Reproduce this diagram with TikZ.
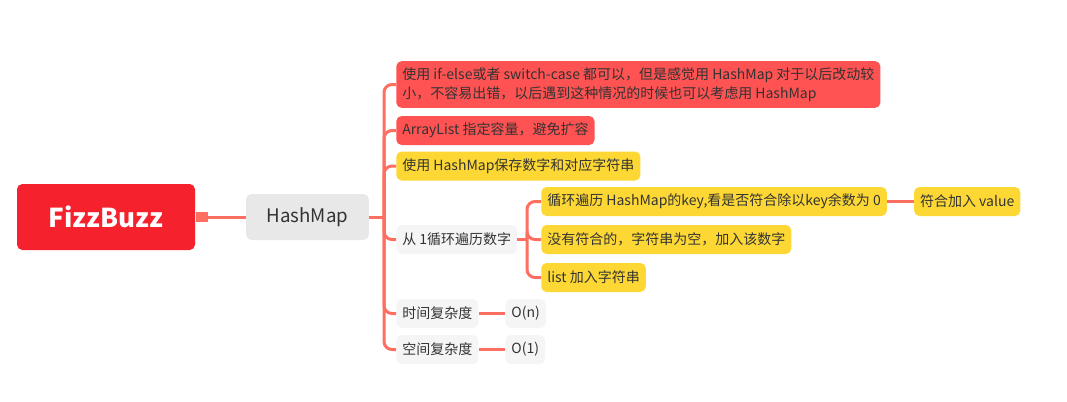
\documentclass[tikz,border=0pt]{standalone}
\usepackage{fontspec}
\setmainfont{Noto Sans CJK SC}
\definecolor{RootRed}{HTML}{F5222D}
\definecolor{TopicRed}{HTML}{FF5252}
\definecolor{TopicGold}{HTML}{FDD835}
\definecolor{TopicPale}{HTML}{F5F5F5}
\definecolor{HubGray}{HTML}{E8E8E8}
\definecolor{LinkSalmon}{HTML}{FF6F61}
\definecolor{InkGray}{HTML}{333333}
\usetikzlibrary{positioning}

\begin{document}
\begin{tikzpicture}[
  x=0.75pt, y=-0.75pt,
  root/.style={rectangle, rounded corners=4pt, fill=RootRed, text=white, minimum width=133.5pt, minimum height=49.5pt, font=\fontsize{19.5}{22}\selectfont\bfseries},
  hub/.style={rectangle, rounded corners=4pt, fill=HubGray, text=InkGray, minimum width=92pt, minimum height=34.5pt, font=\fontsize{14}{16}\selectfont},
  leaf/.style={rectangle, rounded corners=4pt, text=InkGray, anchor=west, minimum height=21.75pt, inner xsep=4.5pt, inner ysep=0pt, font=\fontsize{10.5}{14.5}\selectfont},
  hot/.style={fill=TopicRed},
  gold/.style={fill=TopicGold},
  pale/.style={fill=TopicPale},
  knobbox/.style={rectangle, fill=LinkSalmon, minimum width=9pt, minimum height=7.5pt, inner sep=0pt},
  link/.style={line width=2.25pt, LinkSalmon, rounded corners=6pt}
]
  \useasboundingbox (0,0) rectangle (1067,401);

  % Root and hub
  \node[root] (fizz) at (106,217) {FizzBuzz};
  \node[knobbox, right=0pt of fizz] (knob) {};
  \node[hub] (hashmap) at (307.5,217) {HashMap};
  \coordinate (fork) at (384,217);

  % First level topics
  \node[leaf, hot, align=left, minimum height=35pt] (ifelse) at (396,84.5) {使用 if-else或者 switch-case 都可以，但是感觉用 HashMap 对于以后改动较\\小，不容易出错，以后遇到这种情况的时候也可以考虑用 HashMap};
  \node[leaf, hot] (arraylist) at (396,130.5) {ArrayList 指定容量，避免扩容};
  \node[leaf, gold] (store) at (396,166) {使用 HashMap保存数字和对应字符串};
  \node[leaf, pale] (loop) at (396,239.5) {从 1循环遍历数字};
  \node[leaf, pale] (time) at (396,313.5) {时间复杂度};
  \node[leaf, pale] (space) at (396,349.5) {空间复杂度};

  % Loop steps
  \coordinate (subfork) at (527,239.5);
  \node[leaf, gold] (keys) at (541,201.5) {循环遍历 HashMap的key,看是否符合除以key余数为 0};
  \node[leaf, gold] (empty) at (541,239.5) {没有符合的，字符串为空，加入该数字};
  \node[leaf, gold] (append) at (541,277.5) {list 加入字符串};
  \node[leaf, gold, right=20pt of keys] (value) {符合加入 value};

  % Complexity
  \node[leaf, pale, right=20pt of time] (timeO) {O(n)};
  \node[leaf, pale, right=20pt of space] (spaceO) {O(1)};

  % Links
  \draw[link] (knob) -- (hashmap);
  \draw[link] (hashmap) -- (fork);
  \foreach \n in {ifelse, arraylist, store, loop, time, space}
    \draw[link] (fork) |- (\n.west);
  \draw[link] (loop) -- (subfork);
  \foreach \n in {keys, empty, append}
    \draw[link] (subfork) |- (\n.west);
  \draw[link] (keys) -- (value);
  \draw[link] (time) -- (timeO);
  \draw[link] (space) -- (spaceO);
\end{tikzpicture}
\end{document}
